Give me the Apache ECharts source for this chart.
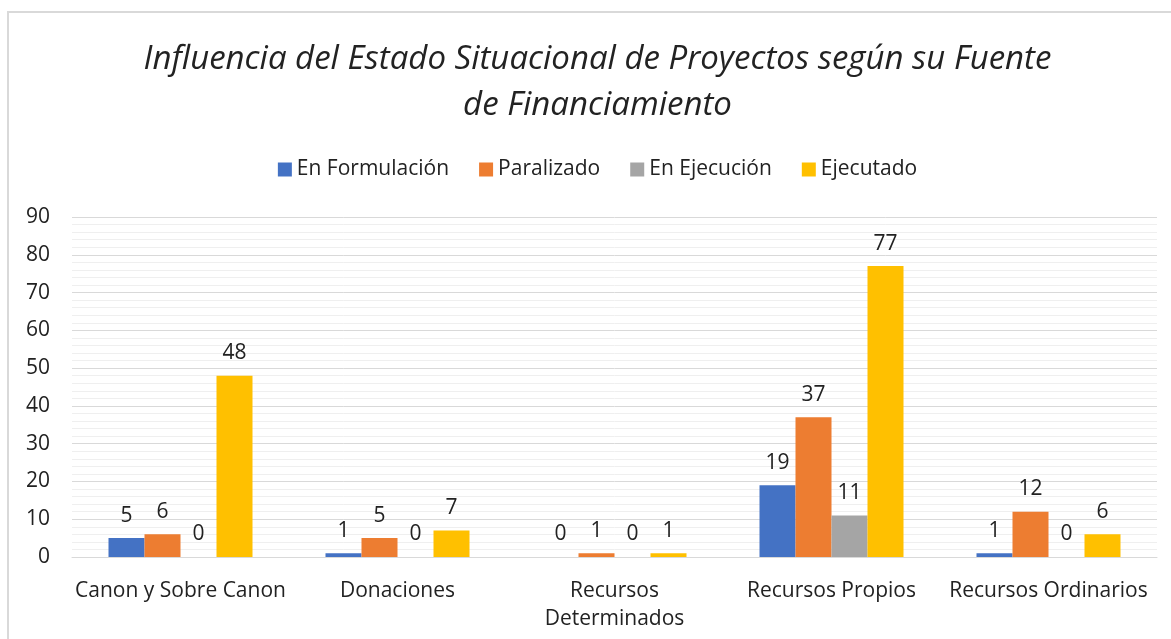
<!DOCTYPE html>
<html lang="es">
<head>
<meta charset="UTF-8">
<title>Influencia del Estado Situacional de Proyectos</title>
<script src="https://cdn.jsdelivr.net/npm/echarts@6.0.0/dist/echarts.min.js"></script>
<style>
    html, body { margin: 0; padding: 0; background: #fff; overflow: hidden; }
    #frame {
        position: absolute; left: 7px; top: 11px; width: 1220px; height: 660px;
        border: 2px solid #d9d9d9; box-sizing: border-box;
    }
    /* the chart box is a bit wider than the window, like the original frame */
    #chart { position: absolute; left: 0; top: 0; width: 1195px; height: 639px; }
</style>
</head>
<body>
<div id="frame"></div>
<div id="chart"></div>
<script>
const categories = ['Canon y Sobre Canon', 'Donaciones', 'Recursos\nDeterminados', 'Recursos Propios', 'Recursos Ordinarios'];
const enFormulacion = [5, 1, 0, 19, 1];
const paralizado = [6, 5, 1, 37, 12];
const enEjecucion = [0, 0, 0, 11, 0];
const ejecutado = [48, 7, 1, 77, 6];
const seriesNames = ['En Formulación', 'Paralizado', 'En Ejecución', 'Ejecutado'];
const colors = ['#4472C4', '#ED7D31', '#A5A5A5', '#FFC000'];

const font = 'Open Sans, sans-serif';
const chart = echarts.init(document.getElementById('chart'));

function bar(name, data, color) {
    return {
        name: name,
        type: 'bar',
        data: data,
        barWidth: 36,
        barGap: '0%',
        itemStyle: { color: color },
        label: {
            show: true,
            position: 'top',
            distance: 12,
            color: '#222',
            fontSize: 21,
            fontFamily: font
        }
    };
}

chart.setOption({
    animation: false,
    title: {
        text: 'Influencia del Estado Situacional de Proyectos según su Fuente\nde Financiamiento',
        left: 'center',
        top: 32,
        textStyle: {
            fontSize: 33,
            fontStyle: 'italic',
            fontWeight: 'normal',
            color: '#222',
            lineHeight: 46,
            fontFamily: font
        }
    },
    legend: {
        top: 154,
        left: 'center',
        itemWidth: 14,
        itemHeight: 14,
        itemGap: 30,
        icon: 'rect',
        textStyle: { fontSize: 21, color: '#222', fontFamily: font },
        data: seriesNames
    },
    grid: { left: 72, right: 38, top: 217, bottom: 82 },
    xAxis: {
        type: 'category',
        data: categories,
        axisLine: { lineStyle: { color: '#d9d9d9' } },
        axisTick: { show: false },
        axisLabel: {
            fontSize: 21, color: '#222', margin: 20, lineHeight: 28,
            fontFamily: font, interval: 0
        }
    },
    yAxis: {
        type: 'value',
        min: 0,
        max: 90,
        interval: 10,
        axisLine: { show: false },
        axisTick: { show: false },
        axisLabel: { fontSize: 21, color: '#222', margin: 22, fontFamily: font },
        splitLine: { lineStyle: { color: '#d9d9d9', width: 1 } },
        minorTick: { show: false, splitNumber: 5 },
        minorSplitLine: { show: true, lineStyle: { color: '#efefef', width: 1 } }
    },
    series: [
        bar(seriesNames[0], enFormulacion, colors[0]),
        bar(seriesNames[1], paralizado, colors[1]),
        bar(seriesNames[2], enEjecucion, colors[2]),
        bar(seriesNames[3], ejecutado, colors[3])
    ]
});

window.addEventListener('resize', function () { chart.resize(); });
</script>
</body>
</html>
